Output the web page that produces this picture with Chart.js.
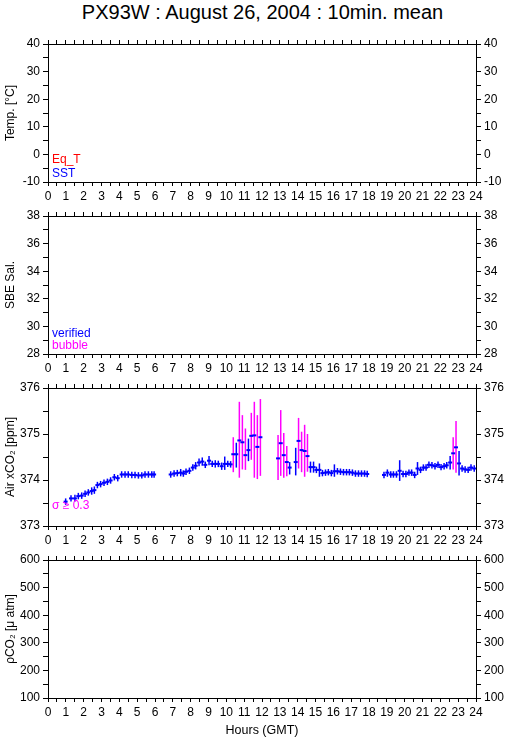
<!DOCTYPE html>
<html>
<head>
<meta charset="utf-8">
<script src="https://cdn.jsdelivr.net/npm/chart.js@4.4.1/dist/chart.umd.min.js"></script>
<style>
  body { margin: 0; background: #fff; width: 509px; height: 739px; position: relative; overflow: hidden;
         font-family: "Liberation Sans", Arial, sans-serif; }
  canvas { position: absolute; left: 0; }
  #title { position: absolute; left: 8px; top: 0; width: 509px; text-align: center;
           font-size: 20px; line-height: 24px; color: #000; }
</style>
</head>
<body>
<div id="title">PX93W : August 26, 2004 : 10min. mean</div>
<canvas id="temp" width="509" height="172" style="top:28px"></canvas>
<canvas id="sal" width="509" height="172" style="top:200px"></canvas>
<canvas id="xco2" width="509" height="172" style="top:372px"></canvas>
<canvas id="pco2" width="509" height="195" style="top:544px"></canvas>
<script>
// tick labels
const hourTicks = [0,1,2,3,4,5,6,7,8,9,10,11,12,13,14,15,16,17,18,19,20,21,22,23,24];
const tempTicks = [-10, 0, 10, 20, 30, 40];
const salTicks = [28, 30, 32, 34, 36, 38];
const xco2Ticks = [373, 374, 375, 376];
const pco2Ticks = [100, 200, 300, 400, 500, 600];

// 10 min means of air xCO2 (hours GMT), with the ends of each error bar
const hours = [
  0.99,1.29,1.51,1.70,1.89,2.08,2.26,2.45,2.60,2.77,2.95,3.14,3.33,3.51,3.72,3.91,4.13,4.32,4.50,4.70,4.88,5.07,5.26,5.44,5.63,5.82,5.95,
  6.88,7.07,7.25,7.44,7.59,7.74,7.93,8.12,8.28,8.47,8.65,8.82,9.03,9.21,9.38,9.55,9.74,9.91,10.08,10.24,
  10.39,10.56,10.73,10.90,11.07,11.24,11.40,11.57,11.74,11.91,12.90,13.05,13.22,13.39,13.55,13.89,14.05,14.22,14.39,14.55,14.72,14.89,
  15.05,15.22,15.39,15.56,15.72,15.89,16.06,16.23,16.40,16.57,16.74,16.90,17.07,17.24,17.41,17.58,17.75,17.90,
  18.84,19.03,19.22,19.37,19.54,19.72,19.91,20.07,20.24,20.39,20.56,20.72,20.89,21.05,21.20,21.36,21.53,21.70,21.87,22.04,22.21,22.36,22.55,22.72,22.88,23.05,23.22,23.39,23.56,23.72,23.90
];
const xco2 = [
  373.53,373.60,373.60,373.65,373.66,373.70,373.73,373.76,373.78,373.89,373.91,373.94,373.96,373.99,374.06,374.04,374.12,374.12,374.12,374.11,374.11,374.10,374.10,374.12,374.12,374.12,374.12,
  374.12,374.14,374.15,374.16,374.14,374.18,374.20,374.27,374.31,374.38,374.40,374.33,374.42,374.35,374.35,374.35,374.30,374.35,374.35,374.34,
  374.56,374.56,374.86,374.82,374.54,374.65,374.96,374.97,374.72,374.93,374.47,374.80,374.54,374.39,374.27,374.39,374.85,374.65,374.63,374.52,374.28,374.28,
  374.22,374.22,374.15,374.16,374.17,374.15,374.19,374.19,374.18,374.17,374.17,374.17,374.16,374.14,374.14,374.14,374.14,374.13,
  374.11,374.16,374.12,374.12,374.12,374.20,374.13,374.13,374.16,374.16,374.11,374.25,374.22,374.27,374.27,374.33,374.32,374.30,374.33,374.28,374.30,374.32,374.38,374.58,374.71,374.36,374.25,374.23,374.22,374.27,374.25
];
const barLow = [
  373.46,373.53,373.53,373.58,373.59,373.63,373.66,373.68,373.70,373.82,373.84,373.87,373.89,373.92,373.99,373.97,374.05,374.05,374.05,374.04,374.04,374.03,374.03,374.05,374.05,374.05,374.05,
  374.05,374.07,374.08,374.08,374.07,374.11,374.13,374.20,374.23,374.30,374.31,374.26,374.32,374.28,374.27,374.28,374.22,374.22,374.28,374.27,
  374.17,374.27,374.05,374.23,374.22,374.41,374.44,374.05,374.02,374.09,374.00,374.09,374.05,374.08,374.12,374.10,374.25,374.17,374.07,374.18,374.16,374.16,
  374.15,374.07,374.08,374.09,374.10,374.08,374.07,374.12,374.11,374.10,374.10,374.10,374.09,374.07,374.07,374.07,374.07,374.06,
  374.04,374.07,374.05,374.05,374.05,373.98,374.06,374.06,374.09,374.09,374.04,374.11,374.15,374.20,374.20,374.26,374.25,374.23,374.26,374.21,374.23,374.25,374.23,374.23,374.16,374.10,374.18,374.16,374.15,374.20,374.18
];
const barHigh = [
  373.60,373.67,373.68,373.72,373.73,373.77,373.80,373.84,373.86,373.96,373.98,374.01,374.03,374.06,374.13,374.11,374.19,374.19,374.19,374.18,374.18,374.17,374.17,374.19,374.19,374.19,374.19,
  374.19,374.21,374.22,374.24,374.21,374.25,374.27,374.34,374.39,374.47,374.49,374.40,374.52,374.42,374.43,374.42,374.38,374.51,374.42,374.41,
  374.93,374.81,375.70,375.41,375.12,374.90,375.46,375.70,375.41,375.76,374.98,375.52,375.02,374.74,374.39,374.70,375.35,375.05,375.20,375.00,374.40,374.40,
  374.29,374.36,374.22,374.23,374.24,374.22,374.34,374.26,374.25,374.24,374.24,374.24,374.23,374.21,374.21,374.21,374.21,374.20,
  374.18,374.23,374.19,374.19,374.19,374.43,374.20,374.20,374.23,374.23,374.18,374.39,374.29,374.34,374.34,374.40,374.39,374.37,374.40,374.35,374.37,374.39,374.52,374.93,375.28,374.63,374.32,374.30,374.29,374.34,374.32
];
// means whose standard deviation is >= 0.3
const flaggedHours = [10.39,10.73,10.90,11.07,11.40,11.57,11.74,11.91,12.90,13.05,13.22,13.39,14.05,14.22,14.39,14.55,22.72,22.88];

Chart.defaults.font.family = '"Liberation Sans", Arial, sans-serif';
Chart.defaults.font.size = 12;
Chart.defaults.color = '#000';

const BLUE = '#0000ff', MAGENTA = '#ff00ff', RED = '#ff0000';

// half hour marks, labelled on the hour
const halfHours = hourTicks.flatMap(h => h < 24 ? [h, h + 0.5] : [h]);

function hourAxis(position, showLabels, title) {
  return {
    type: 'linear', position, min: 0, max: 24, offset: false,
    afterBuildTicks: s => { s.ticks = halfHours.map(v => ({ value: v })); },
    ticks: {
      display: showLabels, autoSkip: false, maxRotation: 0, minRotation: 0, padding: 3,
      callback: v => hourTicks.includes(v) ? String(v) : ''
    },
    grid: { drawOnChartArea: false, offset: false, tickLength: 4, color: '#000', tickColor: '#000' },
    border: { color: '#000', width: 1 },
    title: title
      ? { display: true, text: title, font: { size: 12.5 }, padding: { top: 0, bottom: 1 } }
      : { display: false },
    afterFit: s => { s.height = position === 'top' ? 16 : (title ? 41 : 18); }
  };
}

function valueAxis(position, major, title) {
  const marks = [];
  major.forEach((v, i) => {
    marks.push(v);
    if (i < major.length - 1) marks.push((v + major[i + 1]) / 2);
  });
  return {
    type: 'linear', position, min: major[0], max: major[major.length - 1],
    afterBuildTicks: s => { s.ticks = marks.map(v => ({ value: v })); },
    ticks: { autoSkip: false, padding: 3, callback: v => major.includes(v) ? String(v) : '' },
    grid: { drawOnChartArea: false, tickLength: 5, color: '#000', tickColor: '#000' },
    border: { color: '#000', width: 1 },
    title: title
      ? { display: true, text: title, padding: { top: 3, bottom: 0 } }
      : { display: false },
    afterFit: s => { s.width = position === 'left' ? 48 : 33; }
  };
}

// small coloured notes in the lower left corner of a panel
const cornerNotes = {
  id: 'cornerNotes',
  afterDraw(chart, args, opts) {
    const { ctx, chartArea } = chart;
    ctx.save();
    ctx.font = '12px "Liberation Sans", Arial, sans-serif';
    ctx.textBaseline = 'alphabetic';
    (opts.lines || []).forEach(l => {
      ctx.fillStyle = l.color;
      ctx.fillText(l.text, chartArea.left + 4, chartArea.bottom - l.up);
    });
    ctx.restore();
  }
};

function panel(id, ticks, yTitle, datasets, notes, xTitle) {
  return new Chart(document.getElementById(id), {
    type: 'scatter',
    data: { datasets },
    options: {
      responsive: false, animation: false, events: [],
      layout: { padding: 0 },
      plugins: { legend: { display: false }, tooltip: { enabled: false }, cornerNotes: { lines: notes } },
      scales: {
        x: hourAxis('bottom', true, xTitle),
        x2: hourAxis('top', false, null),
        y: valueAxis('left', ticks, yTitle),
        y2: valueAxis('right', ticks, null)
      }
    },
    plugins: [cornerNotes]
  });
}

panel('temp', tempTicks, 'Temp. [°C]', [], [
  { text: 'Eq_T', color: RED, up: 19 },
  { text: 'SST', color: BLUE, up: 5 }
]);

panel('sal', salTicks, 'SBE Sal.', [], [
  { text: 'verified', color: BLUE, up: 17 },
  { text: 'bubble', color: MAGENTA, up: 5 }
]);

const errorBars = hours.map((h, i) => ({ x: h, y: [barLow[i], barHigh[i]] }));
const barColors = hours.map(h => flaggedHours.includes(h) ? MAGENTA : BLUE);
const means = hours.map((h, i) => ({ x: h, y: xco2[i] }));

panel('xco2', xco2Ticks, 'Air xCO₂ [ppm]', [
  { type: 'bar', data: errorBars, backgroundColor: barColors, barThickness: 1.5, inflateAmount: 0,
    borderWidth: 0, order: 2 },
  { type: 'scatter', data: means, pointStyle: 'line', pointRadius: 2, pointBorderWidth: 2,
    borderColor: BLUE, pointBorderColor: BLUE, backgroundColor: BLUE, order: 1 }
], [
  { text: 'σ ≥ 0.3', color: MAGENTA, up: 17 }
]);

panel('pco2', pco2Ticks, 'ρCO₂ [μ atm]', [], [], 'Hours (GMT)');
</script>
</body>
</html>
